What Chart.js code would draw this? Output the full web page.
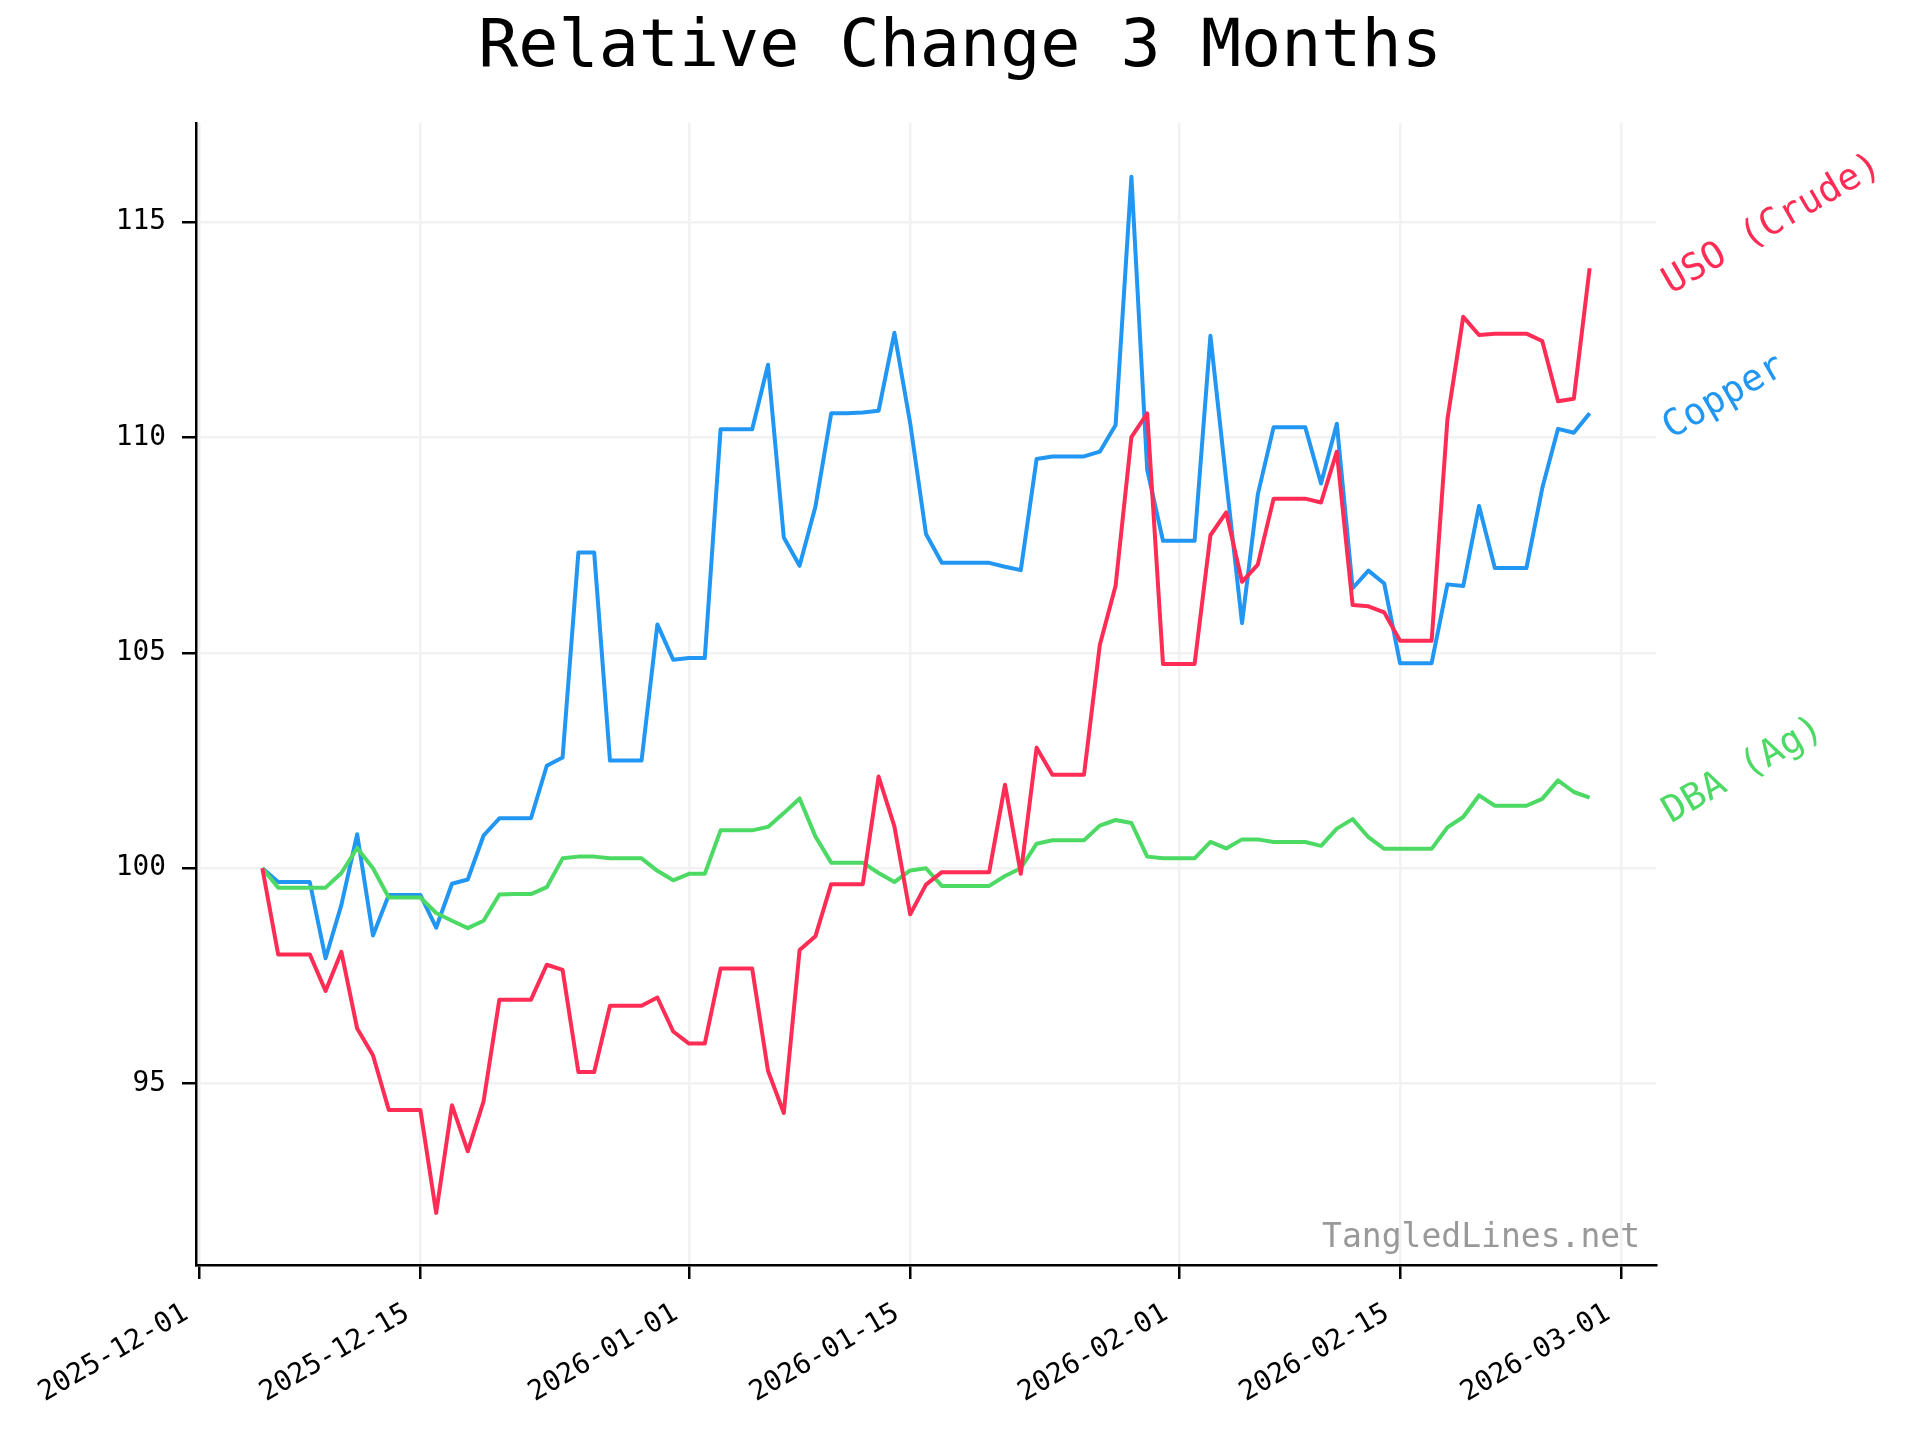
<!DOCTYPE html>
<html>
<head>
<meta charset="utf-8">
<script src="https://cdn.jsdelivr.net/npm/chart.js@4"></script>
<style>
html,body{margin:0;padding:0;background:#ffffff;}
canvas{display:block;}
</style>
</head>
<body>
<canvas id="c" width="1920" height="1440" style="width:1920px;height:1440px"></canvas>
<script>
// ---- Data ----
const dates = [
 '2025-12-05','2025-12-06','2025-12-07','2025-12-08','2025-12-09','2025-12-10','2025-12-11','2025-12-12','2025-12-13','2025-12-14',
 '2025-12-15','2025-12-16','2025-12-17','2025-12-18','2025-12-19','2025-12-20','2025-12-21','2025-12-22','2025-12-23','2025-12-24',
 '2025-12-25','2025-12-26','2025-12-27','2025-12-28','2025-12-29','2025-12-30','2025-12-31','2026-01-01','2026-01-02','2026-01-03',
 '2026-01-04','2026-01-05','2026-01-06','2026-01-07','2026-01-08','2026-01-09','2026-01-10','2026-01-11','2026-01-12','2026-01-13',
 '2026-01-14','2026-01-15','2026-01-16','2026-01-17','2026-01-18','2026-01-19','2026-01-20','2026-01-21','2026-01-22','2026-01-23',
 '2026-01-24','2026-01-25','2026-01-26','2026-01-27','2026-01-28','2026-01-29','2026-01-30','2026-01-31','2026-02-01','2026-02-02',
 '2026-02-03','2026-02-04','2026-02-05','2026-02-06','2026-02-07','2026-02-08','2026-02-09','2026-02-10','2026-02-11','2026-02-12',
 '2026-02-13','2026-02-14','2026-02-15','2026-02-16','2026-02-17','2026-02-18','2026-02-19','2026-02-20','2026-02-21','2026-02-22',
 '2026-02-23','2026-02-24','2026-02-25','2026-02-26','2026-02-27'
];
const uso = [
 100, 98.0, 98.0, 98.0, 97.15, 98.06, 96.28, 95.66, 94.39, 94.39,
 94.39, 92.0, 94.5, 93.43, 94.59, 96.95, 96.95, 96.95, 97.76, 97.64,
 95.27, 95.27, 96.81, 96.81, 96.81, 97.0, 96.21, 95.93, 95.93, 97.67,
 97.67, 97.67, 95.3, 94.32, 98.1, 98.42, 99.63, 99.63, 99.63, 102.13,
 100.97, 98.93, 99.62, 99.91, 99.91, 99.91, 99.91, 101.94, 99.87, 102.8,
 102.17, 102.17, 102.17, 105.18, 106.56, 110.01, 110.56, 104.74, 104.74, 104.74,
 107.73, 108.26, 106.65, 107.05, 108.58, 108.58, 108.58, 108.49, 109.67, 106.11,
 106.08, 105.94, 105.28, 105.28, 105.28, 110.42, 112.8, 112.38, 112.41, 112.41,
 112.41, 112.24, 110.84, 110.9, 113.93
];
const copper = [
 100, 99.68, 99.68, 99.68, 97.91, 99.15, 100.79, 98.44, 99.38, 99.38,
 99.38, 98.62, 99.64, 99.74, 100.76, 101.16, 101.16, 101.16, 102.38, 102.57,
 107.33, 107.33, 102.5, 102.5, 102.5, 105.66, 104.84, 104.88, 104.88, 110.19,
 110.19, 110.19, 111.69, 107.68, 107.02, 108.39, 110.56, 110.56, 110.58, 110.62,
 112.43, 110.33, 107.76, 107.09, 107.09, 107.09, 107.09, 107.0, 106.92, 109.5,
 109.56, 109.56, 109.56, 109.67, 110.29, 116.05, 109.25, 107.6, 107.6, 107.6,
 112.36, 109.0, 105.69, 108.68, 110.24, 110.24, 110.24, 108.93, 110.32, 106.5,
 106.91, 106.61, 104.76, 104.76, 104.76, 106.59, 106.55, 108.41, 106.97, 106.97,
 106.97, 108.82, 110.2, 110.11, 110.56
];
const dba = [
 100, 99.55, 99.55, 99.55, 99.55, 99.89, 100.47, 100.0, 99.32, 99.32,
 99.32, 98.96, 98.78, 98.61, 98.78, 99.39, 99.4, 99.4, 99.56, 100.23,
 100.27, 100.27, 100.23, 100.23, 100.23, 99.94, 99.72, 99.87, 99.87, 100.88,
 100.88, 100.88, 100.96, 101.28, 101.62, 100.74, 100.13, 100.13, 100.13, 99.89,
 99.68, 99.95, 100.0, 99.59, 99.59, 99.59, 99.59, 99.82, 100.0, 100.57,
 100.65, 100.65, 100.65, 100.99, 101.12, 101.05, 100.27, 100.23, 100.23, 100.23,
 100.61, 100.46, 100.67, 100.67, 100.61, 100.61, 100.61, 100.52, 100.92, 101.14,
 100.72, 100.45, 100.45, 100.45, 100.45, 100.95, 101.19, 101.69, 101.45, 101.45,
 101.45, 101.61, 102.04, 101.77, 101.64
];
const xTickLabels = ['2025-12-01','2025-12-15','2026-01-01','2026-01-15','2026-02-01','2026-02-15','2026-03-01'];
const yTickValues = [95, 100, 105, 110, 115];
const titleText = 'Relative Change 3 Months';
const watermarkText = 'TangledLines.net';
const seriesNames = ['USO (Crude)', 'Copper', 'DBA (Ag)'];
const seriesColors = ['#FF2D55', '#2196F3', '#4CD964'];

// ---- helpers ----
const MONO = "'DejaVu Sans Mono', 'Liberation Mono', monospace";
const ORIGIN = Date.UTC(2025, 11, 1);
function dayNum(s) {
  const p = s.split('-').map(Number);
  return (Date.UTC(p[0], p[1] - 1, p[2]) - ORIGIN) / 86400000;
}
function pts(vals) { return dates.map((d, i) => ({ x: dayNum(d), y: vals[i] })); }

const seriesValues = [uso, copper, dba];

const mkDataset = (k) => ({
  label: seriesNames[k],
  data: pts(seriesValues[k]),
  borderColor: seriesColors[k],
  backgroundColor: seriesColors[k],
  borderWidth: 4,
  pointRadius: 0,
  tension: 0,
  fill: false,
  borderJoinStyle: 'round',
  borderCapStyle: 'butt'
});

const decorPlugin = {
  id: 'decor',
  afterDraw(chart) {
    const ctx = chart.ctx;
    const area = chart.chartArea;
    const ys = chart.scales.y;
    ctx.save();
    // title
    ctx.fillStyle = '#000000';
    ctx.font = '66.7px ' + MONO;
    ctx.textAlign = 'center';
    ctx.textBaseline = 'alphabetic';
    ctx.fillText(titleText, 960, 66);
    // watermark
    ctx.fillStyle = '#999999';
    ctx.font = '33px ' + MONO;
    ctx.textAlign = 'right';
    ctx.fillText(watermarkText, area.right - 16, area.bottom - 18);
    // end labels
    ctx.font = '37px ' + MONO;
    ctx.textAlign = 'left';
    for (let k = 0; k < seriesNames.length; k++) {
      const vals = seriesValues[k];
      const yPix = ys.getPixelForValue(vals[vals.length - 1]);
      ctx.save();
      ctx.translate(area.right + 15, yPix + 26);
      ctx.rotate(-Math.PI / 6);
      ctx.fillStyle = seriesColors[k];
      ctx.fillText(seriesNames[k], 0, 0);
      ctx.restore();
    }
    ctx.restore();
  }
};

const gridOpts = {
  color: '#f2f2f2',
  lineWidth: 2.5,
  drawTicks: true,
  tickLength: 14,
  tickColor: '#000000',
  tickWidth: 2.5
};
const borderOpts = { display: true, color: '#000000', width: 2.5 };

new Chart(document.getElementById('c').getContext('2d'), {
  type: 'line',
  data: { datasets: [mkDataset(0), mkDataset(2), mkDataset(1)] },
  options: {
    responsive: false,
    animation: false,
    devicePixelRatio: 1,
    layout: { padding: { top: 123, right: 264, bottom: 0, left: 0 } },
    plugins: { legend: { display: false }, tooltip: { enabled: false }, title: { display: false } },
    scales: {
      x: {
        type: 'linear',
        min: -0.2,
        max: 92.2,
        afterBuildTicks: (s) => { s.ticks = xTickLabels.map(d => ({ value: dayNum(d) })); },
        afterFit: (s) => { s.height = 175; },
        ticks: {
          autoSkip: false,
          minRotation: 30,
          maxRotation: 30,
          padding: 18,
          labelOffset: -13,
          color: '#000000',
          font: { family: MONO, size: 27.8 },
          callback: (v, i) => xTickLabels[i]
        },
        grid: gridOpts,
        border: borderOpts
      },
      y: {
        type: 'linear',
        min: 90.79,
        max: 117.3,
        afterBuildTicks: (s) => { s.ticks = yTickValues.map(v => ({ value: v })); },
        afterFit: (s) => { s.width = 196; },
        ticks: {
          padding: 16,
          color: '#000000',
          font: { family: MONO, size: 27.8 },
          callback: (v) => String(v)
        },
        grid: gridOpts,
        border: borderOpts
      }
    }
  },
  plugins: [decorPlugin]
});
</script>
</body>
</html>
